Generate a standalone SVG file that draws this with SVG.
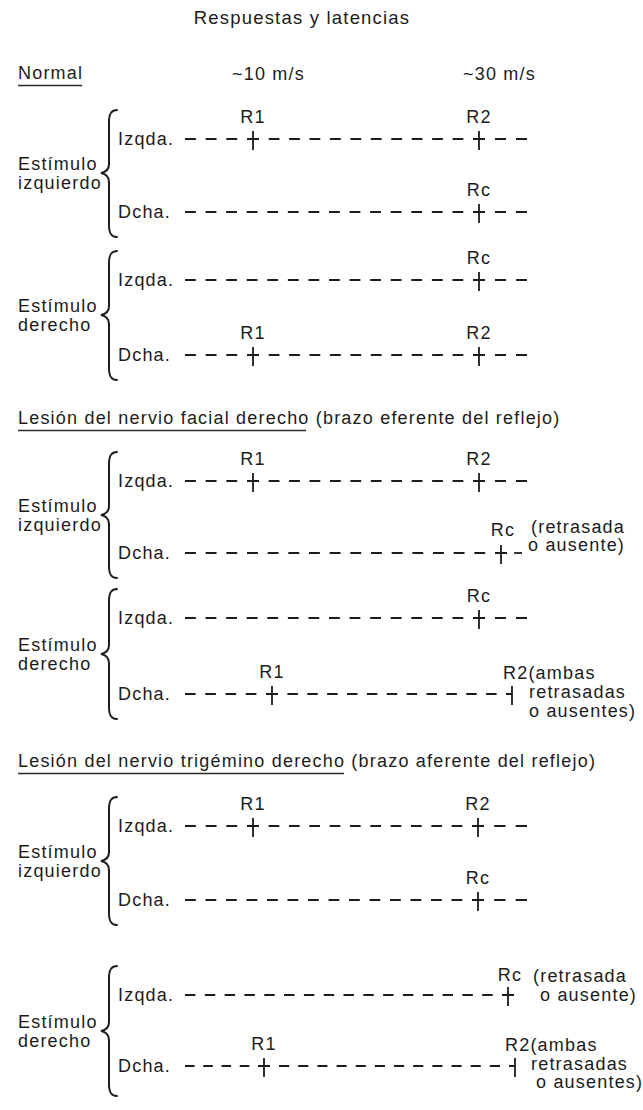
<svg xmlns="http://www.w3.org/2000/svg" width="643" height="1110" viewBox="0 0 643 1110">
<style>
text { font-family: "Liberation Sans", Arial, Helvetica, sans-serif; font-size: 18px; letter-spacing: 1.2px; fill: #1c1c1c; }
.title { font-size: 18.5px; }
.lbl { text-anchor: middle; }
.tr { fill: none; stroke: #1c1c1c; stroke-width: 1.8; stroke-dasharray: 10 9; }
.g { stroke-dashoffset: 10; }
.br { fill: none; stroke: #1c1c1c; stroke-width: 2; stroke-linecap: round; }
.ul { stroke: #2a2a2a; stroke-width: 1.6; }
</style>
<defs>
<path id="tick" d="M-6 0H6M0 -8V11" fill="none" stroke="#1c1c1c" stroke-width="1.8"/>
<path id="tickL" d="M-6 0H0M0 -8V11" fill="none" stroke="#1c1c1c" stroke-width="1.8"/>
</defs>

<g id="header">
<text class="title" x="302" y="24" text-anchor="middle">Respuestas y latencias</text>
<text x="18" y="79">Normal</text>
<line class="ul" x1="18" y1="85.5" x2="82" y2="85.5"/>
<text x="232" y="80">~10 m/s</text>
<text x="463" y="80">~30 m/s</text>
</g>

<g id="heading-facial">
<text x="18" y="424">Lesión del nervio facial derecho (brazo eferente del reflejo)</text>
<line class="ul" x1="18" y1="430.5" x2="306" y2="430.5"/>
</g>

<g id="heading-trigemino">
<text x="18" y="767">Lesión del nervio trigémino derecho (brazo aferente del reflejo)</text>
<line class="ul" x1="18" y1="773.5" x2="344" y2="773.5"/>
</g>

<!-- Group 1: Normal, estímulo izquierdo -->
<g id="g1">
<path class="br" d="M117,110 C111,110 109,114 109,122 V164 C109,169 106,172 101,173 C106,174 109,177 109,182 V225 C109,233 111,237 117,237"/>
<text x="18" y="170">Estímulo</text>
<text x="18" y="189">izquierdo</text>
</g>
<g id="g1-izq">
<text x="118" y="145">Izqda.</text>
<path class="tr" pathLength="57" d="M185 139H247"/>
<use href="#tick" x="253" y="139"/>
<path class="tr g" pathLength="199" d="M259 139H473"/>
<use href="#tick" x="479" y="139"/>
<path class="tr g" pathLength="38" d="M485 139H527"/>
<text class="lbl" x="253" y="123">R1</text>
<text class="lbl" x="479" y="123">R2</text>
</g>
<g id="g1-dch">
<text x="118" y="218">Dcha.</text>
<path class="tr" pathLength="266" d="M185 212H473"/>
<use href="#tick" x="479" y="212"/>
<path class="tr g" pathLength="38" d="M485 212H527"/>
<text class="lbl" x="479" y="196">Rc</text>
</g>

<!-- Group 2: Normal, estímulo derecho -->
<g id="g2">
<path class="br" d="M117,251 C111,251 109,255 109,263 V306 C109,311 106,314 101,315 C106,316 109,319 109,324 V368 C109,376 111,380 117,380"/>
<text x="18" y="312">Estímulo</text>
<text x="18" y="331">derecho</text>
</g>
<g id="g2-izq">
<text x="118" y="286">Izqda.</text>
<path class="tr" pathLength="266" d="M185 280H473"/>
<use href="#tick" x="479" y="280"/>
<path class="tr g" pathLength="38" d="M485 280H527"/>
<text class="lbl" x="479" y="264">Rc</text>
</g>
<g id="g2-dch">
<text x="118" y="361">Dcha.</text>
<path class="tr" pathLength="57" d="M185 355H247"/>
<use href="#tick" x="253" y="355"/>
<path class="tr g" pathLength="199" d="M259 355H473"/>
<use href="#tick" x="479" y="355"/>
<path class="tr g" pathLength="38" d="M485 355H527"/>
<text class="lbl" x="253" y="339">R1</text>
<text class="lbl" x="479" y="339">R2</text>
</g>

<!-- Group 3: facial, estímulo izquierdo -->
<g id="g3">
<path class="br" d="M117,452 C111,452 109,456 109,464 V506 C109,511 106,514 101,515 C106,516 109,519 109,524 V566 C109,574 111,578 117,578"/>
<text x="18" y="512">Estímulo</text>
<text x="18" y="531">izquierdo</text>
</g>
<g id="g3-izq">
<text x="118" y="487">Izqda.</text>
<path class="tr" pathLength="57" d="M185 481H247"/>
<use href="#tick" x="253" y="481"/>
<path class="tr g" pathLength="199" d="M259 481H473"/>
<use href="#tick" x="479" y="481"/>
<path class="tr g" pathLength="38" d="M485 481H527"/>
<text class="lbl" x="253" y="465">R1</text>
<text class="lbl" x="479" y="465">R2</text>
</g>
<g id="g3-dch">
<text x="118" y="559">Dcha.</text>
<path class="tr" pathLength="285" d="M185 553H495"/>
<use href="#tick" x="501" y="553"/>
<path class="tr g" pathLength="19" d="M507 553H522"/>
<text class="lbl" x="503" y="536">Rc</text>
<text x="531" y="533">(retrasada</text>
<text x="528" y="551">o ausente)</text>
</g>

<!-- Group 4: facial, estímulo derecho -->
<g id="g4">
<path class="br" d="M117,589 C111,589 109,593 109,601 V645 C109,650 106,653 101,654 C106,655 109,658 109,663 V707 C109,715 111,719 117,719"/>
<text x="18" y="651">Estímulo</text>
<text x="18" y="670">derecho</text>
</g>
<g id="g4-izq">
<text x="118" y="624">Izqda.</text>
<path class="tr" pathLength="266" d="M185 618H473"/>
<use href="#tick" x="479" y="618"/>
<path class="tr g" pathLength="38" d="M485 618H527"/>
<text class="lbl" x="479" y="602">Rc</text>
</g>
<g id="g4-dch">
<text x="118" y="700">Dcha.</text>
<path class="tr" pathLength="76" d="M185 694H266"/>
<use href="#tick" x="272" y="694"/>
<path class="tr g" pathLength="218" d="M278 694H506"/>
<use href="#tickL" x="512" y="694"/>
<text class="lbl" x="272" y="678">R1</text>
<text x="503" y="679">R2(ambas</text>
<text x="529" y="698">retrasadas</text>
<text x="529" y="717">o ausentes)</text>
</g>

<!-- Group 5: trigémino, estímulo izquierdo -->
<g id="g5">
<path class="br" d="M117,797 C111,797 109,801 109,809 V852 C109,857 106,860 101,861 C106,862 109,865 109,870 V913 C109,921 111,925 117,925"/>
<text x="18" y="858">Estímulo</text>
<text x="18" y="877">izquierdo</text>
</g>
<g id="g5-izq">
<text x="118" y="832">Izqda.</text>
<path class="tr" pathLength="57" d="M185 826H247"/>
<use href="#tick" x="253" y="826"/>
<path class="tr g" pathLength="199" d="M259 826H472"/>
<use href="#tick" x="478" y="826"/>
<path class="tr g" pathLength="38" d="M484 826H527"/>
<text class="lbl" x="253" y="810">R1</text>
<text class="lbl" x="478" y="810">R2</text>
</g>
<g id="g5-dch">
<text x="118" y="906">Dcha.</text>
<path class="tr" pathLength="266" d="M185 900H472"/>
<use href="#tick" x="478" y="900"/>
<path class="tr g" pathLength="38" d="M484 900H527"/>
<text class="lbl" x="478" y="884">Rc</text>
</g>

<!-- Group 6: trigémino, estímulo derecho -->
<g id="g6">
<path class="br" d="M117,966 C111,966 109,970 109,978 V1022 C109,1027 106,1030 101,1031 C106,1032 109,1035 109,1040 V1084 C109,1092 111,1096 117,1096"/>
<text x="18" y="1028">Estímulo</text>
<text x="18" y="1047">derecho</text>
</g>
<g id="g6-izq">
<text x="118" y="1001">Izqda.</text>
<path class="tr" pathLength="304" d="M185 995H502"/>
<use href="#tick" x="508" y="995"/>
<text class="lbl" x="510" y="981">Rc</text>
<text x="533" y="982">(retrasada</text>
<text x="540" y="1001">o ausente)</text>
</g>
<g id="g6-dch">
<text x="118" y="1072">Dcha.</text>
<path class="tr" pathLength="76" d="M185 1066H258"/>
<use href="#tick" x="264" y="1066"/>
<path class="tr g" pathLength="237" d="M270 1066H509"/>
<use href="#tickL" x="515" y="1066"/>
<text class="lbl" x="264" y="1050">R1</text>
<text x="505" y="1051">R2(ambas</text>
<text x="531" y="1070">retrasadas</text>
<text x="536" y="1088">o ausentes)</text>
</g>
</svg>
